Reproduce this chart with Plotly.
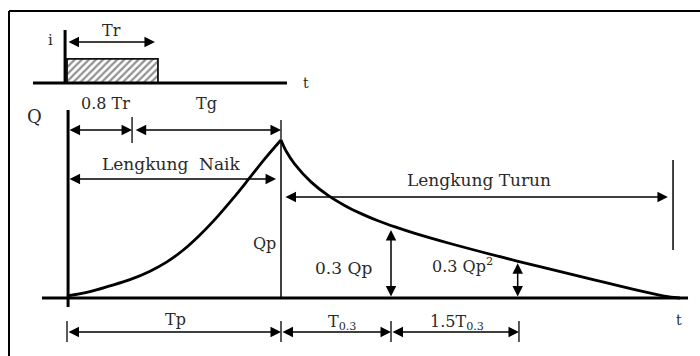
import plotly.graph_objects as go

# ---------------- data (time in units of Tp, discharge in units of Qp) -------------
rise_t = [0.0, 0.107, 0.196, 0.294, 0.388, 0.467, 0.542, 0.621, 0.701, 0.776, 0.855, 0.925, 1.0]
rise_q = [0.013, 0.041, 0.075, 0.116, 0.170, 0.229, 0.302, 0.399, 0.512, 0.630, 0.763, 0.882, 1.0]
fall_t = [1.0, 1.023, 1.065, 1.140, 1.220, 1.299, 1.374, 1.453, 1.533, 1.626, 1.790, 2.103,
          2.411, 2.785, 2.864]
fall_q = [1.0, 0.932, 0.846, 0.735, 0.649, 0.584, 0.534, 0.489, 0.450, 0.409, 0.345, 0.234,
          0.132, 0.013, 0.0]

# key times
T_08TR = 0.304      # 0.8 Tr
T_P = 1.0           # Tp
T_03 = 1.514        # Tp + T0.3
T_15 = 2.112        # Tp + T0.3 + 1.5 T0.3
T_END = 2.832       # end of recession marker
TR_END = 0.411      # rainfall duration Tr
Q_03 = 0.43         # 0.3 Qp level on recession
Q_032 = 0.22        # 0.3 Qp^2 level on recession

# rainfall block (hyetograph)
rain_t = [0.0, 0.425]
rain_base = 1.361
rain_top = 1.513

# labels
labels = ["Tr", "i", "t", "Q", "0.8 Tr", "Tg", "Lengkung  Naik", "Lengkung Turun",
          "Qp", "0.3 Qp", "0.3 Qp<sup>2</sup>", "Tp", "T<sub>0.3</sub>",
          "1.5T<sub>0.3</sub>", "t"]

FONT = "DejaVu Serif"
TXT = "#2a2a2a"
fig = go.Figure()

# hatched rainfall block
fig.add_trace(go.Scatter(
    x=[rain_t[0], rain_t[1], rain_t[1], rain_t[0], rain_t[0]],
    y=[rain_base, rain_base, rain_top, rain_top, rain_base],
    mode="lines", fill="toself", fillcolor="white",
    fillpattern=dict(shape="/", fgcolor="#222222", bgcolor="white", size=5, solidity=0.45),
    line=dict(color="#111111", width=1.8), hoverinfo="skip"))

# hydrograph curves
fig.add_trace(go.Scatter(x=rise_t, y=rise_q, mode="lines",
                         line=dict(color="black", width=2.8, shape="spline", smoothing=1.0),
                         hoverinfo="skip"))
fig.add_trace(go.Scatter(x=fall_t, y=fall_q, mode="lines",
                         line=dict(color="black", width=2.8, shape="spline", smoothing=1.0),
                         hoverinfo="skip"))

def seg(x0, y0, x1, y1, w=1.5, c="black"):
    fig.add_shape(type="line", x0=x0, y0=y0, x1=x1, y1=y1, xref="x", yref="y",
                  line=dict(color=c, width=w))

# top axes
seg(-0.009, rain_base, -0.009, 1.696, w=3)
seg(-0.159, rain_base, 1.028, rain_base, w=3)
# main axes
seg(0.005, -0.057, 0.005, 1.19, w=3)
seg(-0.117, 0.0, 2.902, 0.0, w=3)
# peak vertical line
seg(T_P, 0.0, T_P, 1.0, w=1.5)
# ticks
seg(T_08TR, 0.981, T_08TR, 1.146, w=1.3)
seg(T_P, 1.0, T_P, 1.127, w=1.3)
seg(T_END, 0.304, T_END, 0.873, w=1.5)
for tt in [0.0, T_P, T_03, T_15]:
    seg(tt, -0.278, tt, -0.146, w=1.3)

def arrow(x0, y0, x1, y1, both=True):
    fig.add_annotation(x=x1, y=y1, ax=x0, ay=y0, xref="x", yref="y", axref="x", ayref="y",
                       text="", showarrow=True, arrowhead=2, arrowsize=1.4, arrowwidth=1.5,
                       arrowcolor="black", arrowside="end+start" if both else "end",
                       standoff=0, startstandoff=0)

arrow(0.0, 1.62, TR_END, 1.62)
arrow(0.005, 1.063, T_08TR, 1.063)
arrow(T_08TR + 0.01, 1.063, T_P, 1.063)
arrow(0.005, 0.753, 0.977, 0.753)
arrow(1.014, 0.639, 2.808, 0.639)
arrow(T_03, 0.0, T_03, Q_03)
arrow(T_15 - 0.006, 0.0, T_15 - 0.006, Q_032)
arrow(0.0, -0.215, T_P, -0.215)
arrow(T_P, -0.215, T_03, -0.215)
arrow(T_03, -0.215, T_15, -0.215)

label_pos = [(0.21, 1.69), (-0.079, 1.633), (1.117, 1.361), (-0.154, 1.146),
             (0.178, 1.228), (0.65, 1.228), (0.49, 0.848), (1.925, 0.747),
             (0.925, 0.348), (1.294, 0.19), (1.85, 0.203), (0.509, -0.139),
             (1.285, -0.152), (1.822, -0.152), (2.86, -0.139)]
sizes = [16, 15, 14, 18, 16, 16, 17, 17, 16, 17, 16, 16, 16, 16, 14]
for lab, (lx, ly), s in zip(labels, label_pos, sizes):
    fig.add_annotation(x=lx, y=ly, xref="x", yref="y", text=lab, showarrow=False,
                       font=dict(family=FONT, size=s, color=TXT),
                       xanchor="center", yanchor="middle")

# outer frame (cropped)
fig.add_shape(type="line", xref="paper", yref="paper", x0=9/700, y0=1-11/356, x1=1.02, y1=1-11/356,
              line=dict(color="black", width=2))
fig.add_shape(type="line", xref="paper", yref="paper", x0=9/700, y0=1-11/356, x1=9/700, y1=-0.02,
              line=dict(color="black", width=2))

fig.update_layout(
    width=700, height=356, margin=dict(l=0, r=0, t=0, b=0),
    paper_bgcolor="white", plot_bgcolor="white", showlegend=False,
    xaxis=dict(range=[-67/214, 633/214], visible=False, fixedrange=True),
    yaxis=dict(range=[-58/158, 298/158], visible=False, fixedrange=True),
)
fig.write_html("out.html")
